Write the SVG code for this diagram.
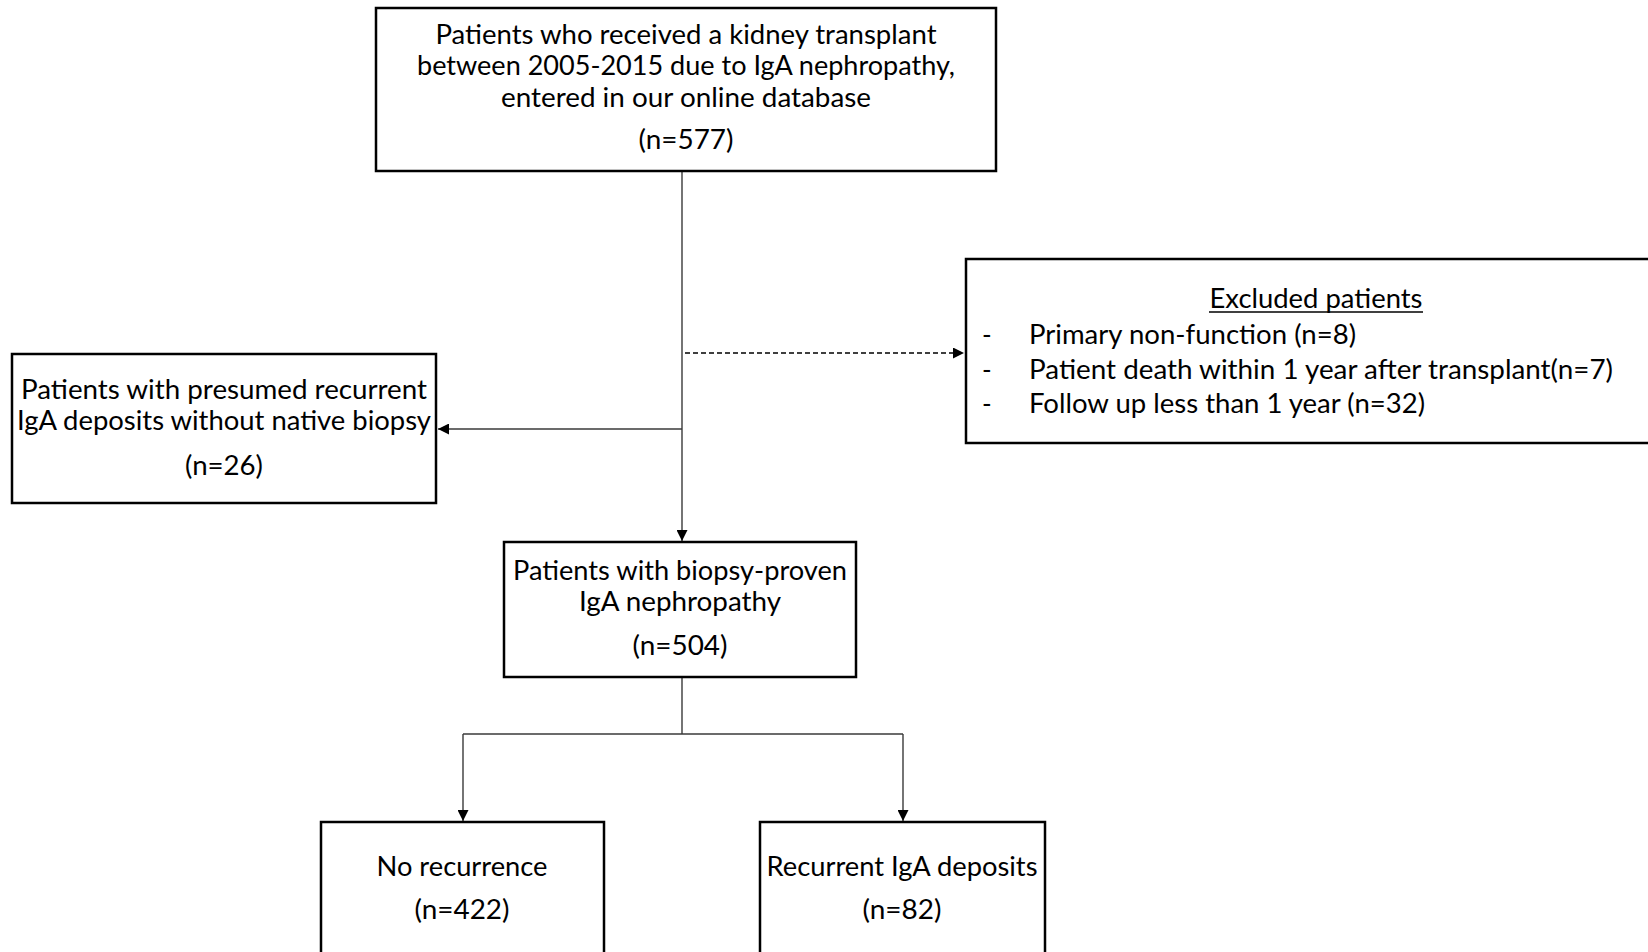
<svg xmlns="http://www.w3.org/2000/svg" width="1648" height="952" viewBox="0 0 1648 952">
<style>
.box{fill:#fff;stroke:#000;stroke-width:2.5}
.t{font-family:Lato,"Liberation Sans",sans-serif;font-size:26px;fill:#000}
.m{text-anchor:middle}
.c{fill:none;stroke:#3a3a3a;stroke-width:1.4}
.d{fill:none;stroke:#000;stroke-width:1.4;stroke-dasharray:5 3}
</style>
<defs>
<marker id="ah" markerWidth="11" markerHeight="11" refX="11" refY="5.5" orient="auto" markerUnits="userSpaceOnUse">
<path d="M0,0 L11,5.5 L0,11 Z" fill="#000"/>
</marker>
</defs>
<rect width="1648" height="952" fill="#fff"/>
<g id="connectors">
<line class="c" x1="682" y1="171" x2="682" y2="541" marker-end="url(#ah)"/>
<line class="d" x1="685" y1="353" x2="964" y2="353" marker-end="url(#ah)"/>
<line class="c" x1="682" y1="429" x2="438" y2="429" marker-end="url(#ah)"/>
<line class="c" x1="682" y1="677" x2="682" y2="734"/>
<polyline class="c" points="463,734 903,734"/>
<line class="c" x1="463" y1="734" x2="463" y2="821" marker-end="url(#ah)"/>
<line class="c" x1="903" y1="734" x2="903" y2="821" marker-end="url(#ah)"/>
</g>
<g id="n-top">
<rect class="box" x="376" y="8" width="620" height="163"/>
<text class="t m" x="686" y="44" textLength="501" lengthAdjust="spacingAndGlyphs">Patients who received a kidney transplant</text>
<text class="t m" x="686" y="75" textLength="538" lengthAdjust="spacingAndGlyphs">between 2005-2015 due to IgA nephropathy,</text>
<text class="t m" x="686" y="107" textLength="370" lengthAdjust="spacingAndGlyphs">entered in our online database</text>
<text class="t m" x="686" y="149" textLength="95" lengthAdjust="spacingAndGlyphs">(n=577)</text>
</g>
<g id="n-excluded">
<rect class="box" x="966" y="259" width="700" height="184"/>
<text class="t m" x="1316" y="308" textLength="213" lengthAdjust="spacingAndGlyphs">Excluded patients</text>
<line x1="1209" y1="312" x2="1423" y2="312" stroke="#000" stroke-width="1.6"/>
<text class="t" x="982" y="344">-</text>
<text class="t" x="1029" y="344" textLength="327" lengthAdjust="spacingAndGlyphs">Primary non-function (n=8)</text>
<text class="t" x="982" y="379">-</text>
<text class="t" x="1029" y="379" textLength="584" lengthAdjust="spacingAndGlyphs">Patient death within 1 year after transplant(n=7)</text>
<text class="t" x="982" y="413">-</text>
<text class="t" x="1029" y="413" textLength="396" lengthAdjust="spacingAndGlyphs">Follow up less than 1 year (n=32)</text>
</g>
<g id="n-presumed">
<rect class="box" x="12" y="354" width="424" height="149"/>
<text class="t m" x="224" y="399" textLength="406" lengthAdjust="spacingAndGlyphs">Patients with presumed recurrent</text>
<text class="t m" x="224" y="430" textLength="414" lengthAdjust="spacingAndGlyphs">IgA deposits without native biopsy</text>
<text class="t m" x="224" y="475" textLength="78" lengthAdjust="spacingAndGlyphs">(n=26)</text>
</g>
<g id="n-biopsy">
<rect class="box" x="504" y="542" width="352" height="135"/>
<text class="t m" x="680" y="580" textLength="334" lengthAdjust="spacingAndGlyphs">Patients with biopsy-proven</text>
<text class="t m" x="680" y="611" textLength="202" lengthAdjust="spacingAndGlyphs">IgA nephropathy</text>
<text class="t m" x="680" y="655" textLength="95" lengthAdjust="spacingAndGlyphs">(n=504)</text>
</g>
<g id="n-norec">
<rect class="box" x="321" y="822" width="283" height="200"/>
<text class="t m" x="462" y="876" textLength="171" lengthAdjust="spacingAndGlyphs">No recurrence</text>
<text class="t m" x="462" y="919" textLength="95" lengthAdjust="spacingAndGlyphs">(n=422)</text>
</g>
<g id="n-rec">
<rect class="box" x="760" y="822" width="285" height="200"/>
<text class="t m" x="902" y="876" textLength="271" lengthAdjust="spacingAndGlyphs">Recurrent IgA deposits</text>
<text class="t m" x="902" y="919" textLength="79" lengthAdjust="spacingAndGlyphs">(n=82)</text>
</g>
</svg>
